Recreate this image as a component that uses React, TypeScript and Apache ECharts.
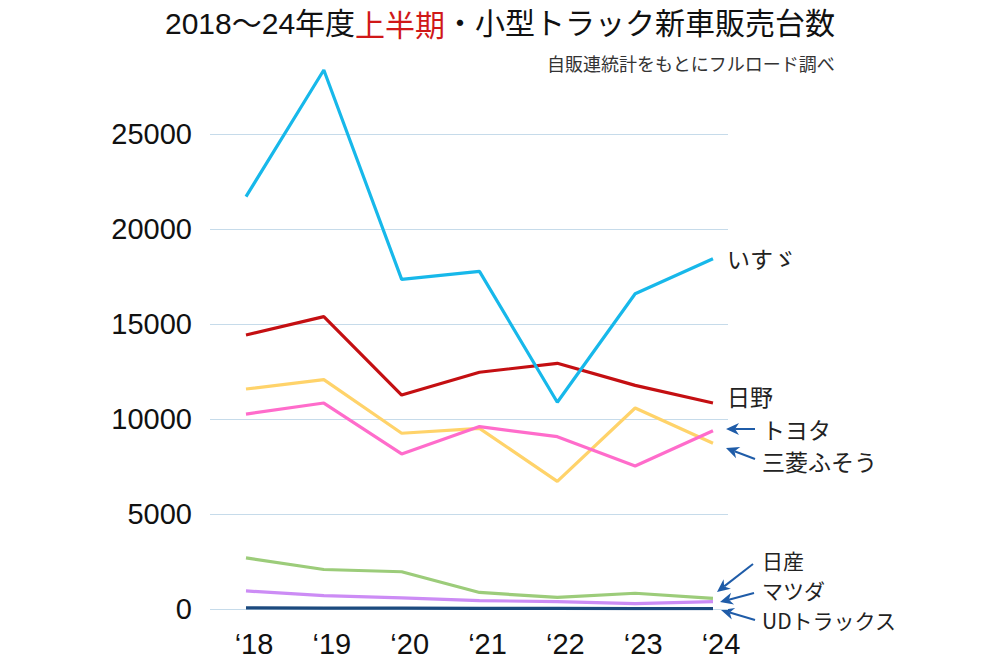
import React, { useEffect, useRef } from "react";
import * as echarts from "echarts";

const years = ["‘18", "‘19", "‘20", "‘21", "‘22", "‘23", "‘24"];
const yTicks = [0, 5000, 10000, 15000, 20000, 25000];

const isuzu = [21700, 28370, 17350, 17770, 10880, 16590, 18430];
const hino = [14420, 15390, 11260, 12460, 12930, 11770, 10840];
const fuso = [11580, 12070, 9250, 9510, 6720, 10580, 8720];
const toyota = [10260, 10840, 8160, 9600, 9070, 7530, 9380];
const nissan = [2690, 2080, 1960, 870, 610, 830, 560];
const mazda = [950, 700, 590, 440, 390, 280, 390];
const ud = [60, 50, 45, 35, 30, 25, 25];

const seriesNames = ["UDトラックス", "マツダ", "日産", "三菱ふそう", "トヨタ", "日野", "いすゞ"];
const seriesData = [ud, mazda, nissan, fuso, toyota, hino, isuzu];
const seriesColors = ["#1c4a7e", "#cc8cf5", "#9ccc7a", "#ffd36a", "#ff6ccb", "#c40f12", "#17b8ea"];

const LABEL_FONT = "'Liberation Sans', 'Noto Sans CJK JP', sans-serif";
const JP_FONT = "'Noto Sans CJK JP', sans-serif";
const ARROW = "#1f5ca8";

function arrow(x1: number, y1: number, x2: number, y2: number) {
  const dx = x2 - x1;
  const dy = y2 - y1;
  const len = Math.sqrt(dx * dx + dy * dy);
  const ux = dx / len;
  const uy = dy / len;
  const hl = 13;
  const hw = 6;
  const bx = x2 - ux * hl;
  const by = y2 - uy * hl;
  const nx = -uy;
  const ny = ux;
  const notchX = x2 - ux * hl * 0.7;
  const notchY = y2 - uy * hl * 0.7;
  return [
    {
      type: "line",
      shape: { x1, y1, x2: notchX, y2: notchY },
      style: { stroke: ARROW, lineWidth: 2 },
    },
    {
      type: "polygon",
      shape: {
        points: [
          [x2, y2],
          [bx + nx * hw, by + ny * hw],
          [notchX, notchY],
          [bx - nx * hw, by - ny * hw],
        ],
      },
      style: { fill: ARROW },
    },
  ];
}

function label(text: string, x: number, y: number, size = 23) {
  return {
    type: "text",
    x,
    y,
    style: {
      text,
      fill: "#222",
      font: `${size}px ${JP_FONT}`,
      textVerticalAlign: "middle",
      textAlign: "left",
    },
  };
}

export default function App() {
  const ref = useRef<HTMLDivElement>(null);

  useEffect(() => {
    if (!ref.current) return;
    const chart = echarts.init(ref.current, null, { renderer: "svg" });
    const option: any = {
      animation: false,
      backgroundColor: "#ffffff",
      title: [
        {
          text: "2018～24年度{r|上半期}・小型トラック新車販売台数",
          left: "center",
          top: 3,
          textStyle: {
            fontSize: 30,
            fontWeight: "normal",
            color: "#111",
            fontFamily: LABEL_FONT,
            rich: {
              r: { fontSize: 30, color: "#d01818", fontFamily: JP_FONT },
            },
          },
        },
        {
          text: "自販連統計をもとにフルロード調べ",
          right: 160,
          top: 49,
          textStyle: {
            fontSize: 18,
            fontWeight: "normal",
            color: "#333",
            fontFamily: JP_FONT,
          },
        },
      ],
      grid: { left: 210, right: 272, top: 67.5, bottom: 58 },
      xAxis: {
        type: "value",
        min: -0.4625,
        max: 6.193,
        axisLine: { show: false },
        axisTick: { show: false, customValues: [0, 1, 2, 3, 4, 5, 6] },
        splitLine: { show: false },
        axisLabel: {
          customValues: [0, 1, 2, 3, 4, 5, 6],
          formatter: (v: number) => years[Math.round(v)] ?? "",
          fontSize: 29,
          color: "#111",
          fontFamily: LABEL_FONT,
          margin: 20,
          padding: [0, 0, 0, 16],
        },
      },
      yAxis: {
        type: "value",
        min: 0,
        max: 28500,
        axisLine: { show: false },
        axisTick: { show: false, customValues: yTicks },
        axisLabel: {
          customValues: yTicks,
          formatter: (v: number) => String(v),
          fontSize: 29,
          color: "#111",
          fontFamily: LABEL_FONT,
          margin: 18,
        },
        splitLine: { show: true, lineStyle: { color: "#c6dbea", width: 1.2 } },
      },
      series: seriesNames.map((name, si) => ({
        name,
        type: "line",
        data: seriesData[si].map((v, i) => [i, v]),
        symbol: "none",
        lineStyle: { color: seriesColors[si], width: 3.2 },
        itemStyle: { color: seriesColors[si] },
      })),
      graphic: [
        label("いすゞ", 727, 258),
        label("日野", 727, 396),
        label("トヨタ", 762, 429),
        label("三菱ふそう", 762, 461),
        label("日産", 762, 560, 21),
        label("マツダ", 762, 590, 21),
        label("UDトラックス", 762, 620, 21),
        ...arrow(755, 429, 726, 429),
        ...arrow(755, 459, 726, 448),
        ...arrow(753, 564, 717, 592),
        ...arrow(754, 593, 720, 602),
        ...arrow(755, 620, 721, 610),
      ],
    };
    chart.setOption(option);
    return () => chart.dispose();
  }, []);

  return (
    <div
      ref={ref}
      style={{ position: "fixed", left: 0, top: 0, width: 1000, height: 667, background: "#fff" }}
    />
  );
}
